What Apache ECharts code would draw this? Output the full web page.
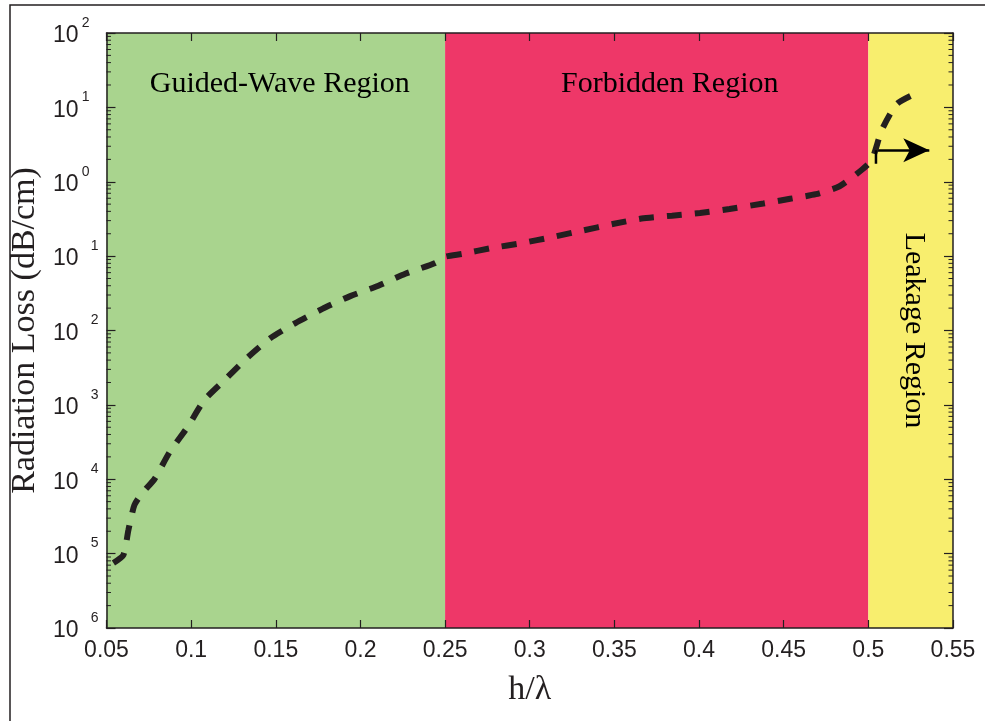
<!DOCTYPE html>
<html><head><meta charset="utf-8">
<script src="https://cdn.jsdelivr.net/npm/echarts@6/dist/echarts.min.js"></script>
<style>html,body{margin:0;padding:0;background:#fff}#c{width:985px;height:721px}</style>
</head><body><div id="c"></div>
<script>
// ---- data ----
const hOverLambda = [0.0541,0.0600,0.0630,0.0665,0.0713,0.0783,0.0872,0.0978,0.1079,0.1197,0.1326,0.1468,0.1616,0.1775,0.194,0.2106,0.2265,0.2442,0.25,0.26,0.278,0.2956,0.313,0.331,0.349,0.366,0.384,0.4006,0.418,0.438,0.4538,0.469,0.483,0.496,0.502,0.508,0.517,0.531];
const radiationLoss = [7.5e-6,9.6e-6,2.1e-5,4.5e-5,6.6e-5,1.0e-4,2.3e-4,5.0e-4,1.17e-3,2.15e-3,4.2e-3,7.9e-3,0.0126,0.0195,0.029,0.040,0.058,0.081,0.098,0.107,0.129,0.15,0.18,0.22,0.27,0.32,0.35,0.38,0.43,0.51,0.59,0.68,0.87,1.44,1.95,5.0,11.2,16.6];
const regionNames = ['Guided-Wave Region','Forbidden Region','Leakage Region'];
const regionStarts = [0.05,0.25,0.5];
const regionEnds = [0.25,0.5,0.55];
const arrowX = [0.5045,0.5045,0.536];
const arrowY = [1.75,2.65,2.65];
const xMin = 0.05, xMax = 0.55, xStep = 0.05;
const yMin = 1e-6, yMax = 1e2;
const minorMultipliers = [2,3,4,5,6,7,8,9];

// ---- style ----
const ink = '#231f20';
const regionColors = ['#a9d48e','#ee3768','#f8ee6e'];
const serif = 'Liberation Serif';
const sans = 'Liberation Sans';

const minorData = [];
for (let e = Math.round(Math.log10(yMin)); e < Math.round(Math.log10(yMax)); e++)
  for (const m of minorMultipliers) minorData.push([xMin, m * Math.pow(10, e)]);

const regionLabelCfg = [
  {position:'insideTop', distance:36, offset:[4,0]},
  {position:'insideTop', distance:36, offset:[13,0]},
  {position:'inside', rotate:-90, offset:[0,-3]}
];

const chart = echarts.init(document.getElementById('c'), null, {renderer:'canvas'});
const axisLineStyle = {color: ink, width: 1.5};
chart.setOption({
  animation: false,
  backgroundColor: '#fff',
  grid: {left:106, right:32, top:33, bottom:93},
  graphic: [{type:'rect', x:10, y:5, shape:{x:0,y:0,width:1200,height:1000}, style:{fill:null, stroke:ink, lineWidth:1.5}, z:0}],
  xAxis: [
    {type:'value', min:xMin, max:xMax, interval:xStep, position:'bottom', z:10,
     axisLine:{lineStyle:axisLineStyle}, axisTick:{inside:true, length:8, lineStyle:{color:ink, width:1.2}},
     axisLabel:{margin:11, fontFamily:sans, fontSize:23, color:ink, formatter: v => String(+v.toFixed(2))},
     splitLine:{show:false},
     name:'h/λ', nameLocation:'middle', nameGap:45, nameTextStyle:{fontFamily:serif, fontSize:34, color:ink}},
    {type:'value', min:xMin, max:xMax, interval:xStep, position:'top', z:10,
     axisLine:{lineStyle:axisLineStyle}, axisTick:{inside:true, length:8, lineStyle:{color:ink, width:1.2}},
     axisLabel:{show:false}, splitLine:{show:false}}
  ],
  yAxis: [
    {type:'log', logBase:10, min:yMin, max:yMax, splitNumber:8, position:'left', z:10,
     axisLine:{show:true, lineStyle:axisLineStyle}, axisTick:{show:true, inside:true, length:9, lineStyle:{color:ink, width:1.2}},
     splitLine:{show:false},
     axisLabel:{margin:8, color:ink,
       formatter: v => { const e = Math.round(Math.log10(v)); return (e < 0 ? '{n|' + (-e) + '}' : '{p|' + e + '}') + '\n{b|10}'; },
       rich:{
         b:{fontFamily:sans, fontSize:23, lineHeight:20, color:ink, padding:[0,20,4,0]},
         p:{fontFamily:sans, fontSize:14, lineHeight:10, color:ink, padding:[0,9,0,0]},
         n:{fontFamily:sans, fontSize:14, lineHeight:10, color:ink, padding:[0,0,0,0]}
       }},
     name:'Radiation Loss (dB/cm)', nameLocation:'middle', nameGap:52, nameTextStyle:{fontFamily:serif, fontSize:34, color:ink}},
    {type:'log', logBase:10, min:yMin, max:yMax, splitNumber:8, position:'right', z:10,
     axisLine:{show:true, lineStyle:axisLineStyle}, axisTick:{show:true, inside:true, length:9, lineStyle:{color:ink, width:1.2}},
     axisLabel:{show:false}, splitLine:{show:false}}
  ],
  series: [
    {type:'line', name:'regions', data:[], z:1, silent:true,
     markArea:{silent:true, data: regionNames.map((n,i)=>[
       {name:n, xAxis:regionStarts[i], itemStyle:{color:regionColors[i], opacity:1},
        label:Object.assign({show:true, color:'#000', fontFamily:serif, fontSize:30}, regionLabelCfg[i])},
       {xAxis:regionEnds[i]}
     ])}},
    {type:'custom', name:'minorTicks', data:minorData, z:11, silent:true, clip:false,
     renderItem:(params, api) => {
       const v = api.value(1);
       const pl = api.coord([xMin, v]), pr = api.coord([xMax, v]);
       return {type:'group', children:[
         {type:'line', shape:{x1:pl[0], y1:pl[1], x2:pl[0]+4.5, y2:pl[1]}, style:{stroke:ink, lineWidth:1}},
         {type:'line', shape:{x1:pr[0], y1:pr[1], x2:pr[0]-4.5, y2:pr[1]}, style:{stroke:ink, lineWidth:1}}
       ]};
     }},
    {type:'line', name:'loss', data:hOverLambda.map((x,i)=>[x, radiationLoss[i]]), z:5, symbol:'none', smooth:0.2,
     lineStyle:{color:ink, width:6, type:[15,13], cap:'butt'}},
    {type:'line', name:'arrow', data:arrowX.slice(0,2).map((x,i)=>[x, arrowY[i]]), z:6, symbol:'none',
     lineStyle:{color:'#000', width:2.5, type:'solid'},
     markLine:{silent:true, symbol:['none','arrow'], symbolSize:[18,26],
       lineStyle:{color:'#000', width:2.5, type:'solid'}, label:{show:false},
       data:[[{coord:[arrowX[1], arrowY[1]]},{coord:[arrowX[2], arrowY[2]]}]]}}
  ]
});
</script></body></html>
